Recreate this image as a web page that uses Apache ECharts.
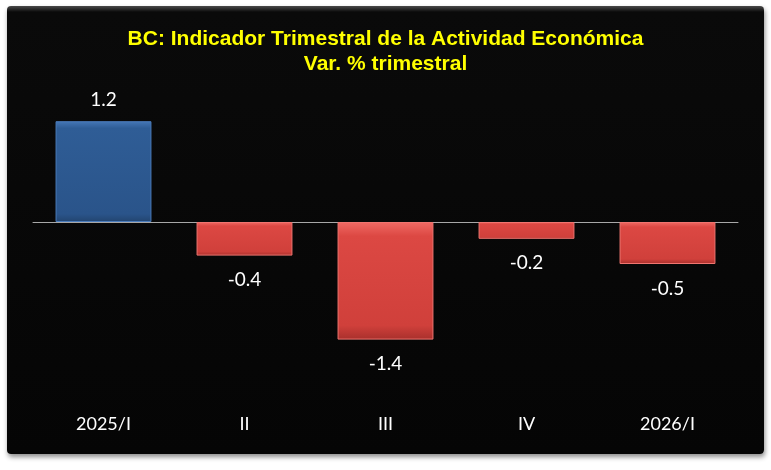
<!DOCTYPE html>
<html>
<head>
<meta charset="utf-8">
<script src="https://cdn.jsdelivr.net/npm/echarts@6/dist/echarts.min.js"></script>
<style>
  html, body { margin: 0; padding: 0; background: #fff; }
  #panel {
    position: absolute; left: 7px; top: 6px; width: 757px; height: 448px;
    background: linear-gradient(#4a4a4a 0px, #0a0a0a 6px, #050505 100%);
    border-radius: 4px;
    box-shadow: 1px 3px 5px rgba(0, 0, 0, 0.45);
  }
  #chart { position: absolute; left: 0; top: 0; width: 771px; height: 470px; }
</style>
</head>
<body>
<div id="panel"></div>
<div id="chart"></div>
<script>
const titleLines = ['BC: Indicador Trimestral de la Actividad Económica', 'Var. % trimestral'];
const categories = ['2025/I', 'II', 'III', 'IV', '2026/I'];
const values = [1.2, -0.4, -1.4, -0.2, -0.5];

const blueFill = new echarts.graphic.LinearGradient(0, 0, 0, 1, [
  { offset: 0, color: '#4577b6' },
  { offset: 0.07, color: '#2f5d96' },
  { offset: 0.92, color: '#2a548a' },
  { offset: 1, color: '#22446f' }
]);
const redFill = new echarts.graphic.LinearGradient(0, 0, 0, 1, [
  { offset: 0, color: '#f06a64' },
  { offset: 0.12, color: '#dc4843' },
  { offset: 0.88, color: '#d0403b' },
  { offset: 1, color: '#a8302c' }
]);

const chart = echarts.init(document.getElementById('chart'));
chart.setOption({
  backgroundColor: 'transparent',
  animation: false,
  title: {
    text: titleLines.join('\n'),
    left: 'center',
    top: 22,
    textStyle: {
      color: '#ffff00',
      fontFamily: '"Liberation Sans Narrow", "Arial Narrow", "Liberation Sans", sans-serif',
      fontWeight: 'bold',
      fontSize: 21,
      lineHeight: 25
    }
  },
  grid: { left: 33, right: 33, top: 96, height: 294 },
  xAxis: [
    {
      type: 'category',
      data: categories,
      position: 'bottom',
      axisLine: { show: false, onZero: false },
      axisTick: { show: false },
      axisLabel: {
        color: '#fff',
        fontFamily: 'Lato, "Open Sans", sans-serif',
        fontSize: 18,
        margin: 25
      }
    },
    {
      type: 'category',
      data: categories,
      position: 'bottom',
      axisLine: { show: true, onZero: true, lineStyle: { color: '#a8a8a8', width: 1 } },
      axisTick: { show: false },
      axisLabel: { show: false }
    }
  ],
  yAxis: {
    type: 'value',
    min: -2,
    max: 1.5,
    show: false,
    splitLine: { show: false }
  },
  series: [{
    type: 'bar',
    xAxisIndex: 0,
    barWidth: '68%',
    data: values.map(v => ({
      value: v,
      itemStyle: { color: v >= 0 ? blueFill : redFill, borderColor: v >= 0 ? '#4a7cbc' : '#f07570', borderWidth: 1 },
      label: { position: v >= 0 ? 'top' : 'bottom', distance: v >= 0 ? 12 : 15 }
    })),
    label: {
      show: true,
      color: '#fff',
      fontFamily: 'Lato, "Open Sans", sans-serif',
      fontSize: 19,
      formatter: p => p.value.toFixed(1)
    }
  }]
});
</script>
</body>
</html>
